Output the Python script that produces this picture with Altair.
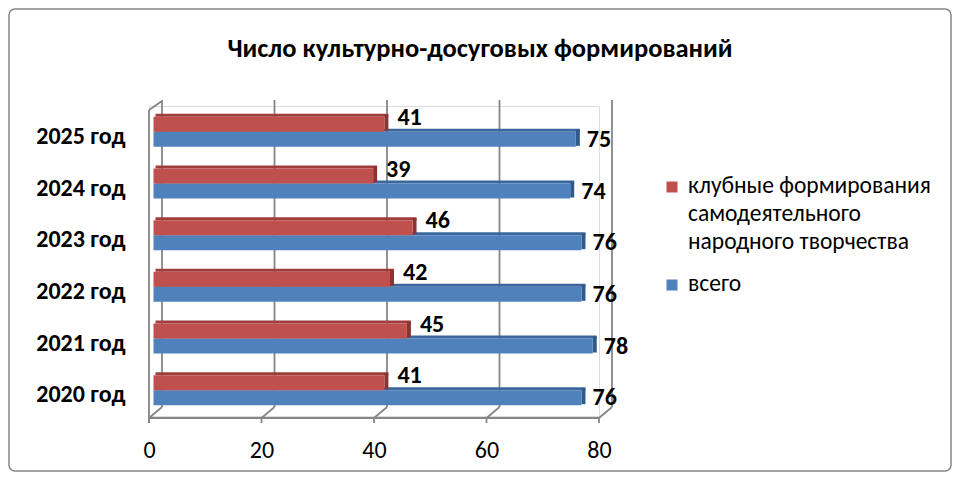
import altair as alt
import pandas as pd

# ---------------- data ----------------
years = ["2020 год", "2021 год", "2022 год", "2023 год", "2024 год", "2025 год"]
club = [41, 45, 42, 46, 39, 41]
total = [76, 78, 76, 76, 74, 75]
series_names = ["клубные формирования самодеятельного народного творчества", "всего"]
legend_lines = ["клубные формирования\nсамодеятельного\nнародного творчества", "всего"]
x_ticks = [0, 20, 40, 60, 80]
title_text = "Число культурно-досуговых формирований"

# ---------------- style ----------------
FONT = "Carlito, Lato, 'Noto Sans', sans-serif"
GRID = "#868686"
RED, RED_TOP, RED_SIDE = "#C0504D", "#9E3D3B", "#8A3331"
BLUE, BLUE_TOP, BLUE_SIDE = "#4F81BD", "#3B679C", "#2F5A8C"

W, H = 450, 310
PAD = {"left": 141, "top": 98, "right": 944 - 141 - W, "bottom": 464 - 98 - H}

rows = []
for y, c, t in zip(years, club, total):
    rows.append({"year": y, "series": "club", "value": c, "zero": 0})
    rows.append({"year": y, "series": "total", "value": t, "zero": 0})
df = pd.DataFrame(rows)
ticks_df = pd.DataFrame({"v": x_ticks})
ends_df = pd.DataFrame({"a": [x_ticks[0]], "b": [x_ticks[-1]]})
legend_df = pd.DataFrame({"key": ["a", "b"], "label": legend_lines, "name": series_names})
title_df = pd.DataFrame({"t": [title_text]})

# ---------------- frame layer (walls, grid, axis) ----------------
xs_frame = alt.Scale(domain=[x_ticks[0], x_ticks[-1]], nice=False, zero=False)
xa = alt.Axis(values=x_ticks, title=None, domain=False, ticks=False, tickSize=0, grid=False,
              labelFont=FONT, labelFontSize=24, labelColor="#000000", labelFlush=False,
              labelPadding=34, labelBaseline="middle")

def fx(field):
    return alt.X(field, type="quantitative", scale=xs_frame, axis=xa)

SW = 1.8
back_grid = alt.Chart(ticks_df).mark_rule(color=GRID, strokeWidth=SW, xOffset=13).encode(
    x=fx("v"), y=alt.value(-6), y2=alt.value(301))
diag = alt.Chart(ticks_df).mark_rule(color=GRID, strokeWidth=SW, x2Offset=13).encode(
    x=fx("v"), x2="v:Q", y=alt.value(312), y2=alt.value(301))
ticks = alt.Chart(ticks_df).mark_rule(color=GRID, strokeWidth=SW).encode(
    x=fx("v"), y=alt.value(312), y2=alt.value(317))
front_axis = alt.Chart(ends_df).mark_rule(color=GRID, strokeWidth=SW).encode(
    x=fx("a"), x2="b:Q", y=alt.value(312))
left_front = alt.Chart(ends_df).mark_rule(color=GRID, strokeWidth=SW).encode(
    x=fx("a"), y=alt.value(4), y2=alt.value(317))
left_top = alt.Chart(ends_df).mark_rule(color=GRID, strokeWidth=SW, x2Offset=13).encode(
    x=fx("a"), x2="a:Q", y=alt.value(4), y2=alt.value(-5))
border = alt.Chart(ends_df).mark_rect(fillOpacity=0, stroke="#858585", strokeWidth=1.5,
                                      cornerRadius=6).encode(
    x=alt.value(-140), x2=alt.value(802), y=alt.value(-97), y2=alt.value(365))

frame = alt.layer(border, back_grid, diag, ticks, front_axis, left_front, left_top)

# ---------------- bars layer ----------------
xs_bar = alt.Scale(domain=[x_ticks[0], x_ticks[-1]], range=[4.5, 455], nice=False, zero=False)

def bx(field):
    return alt.X(field, type="quantitative", scale=xs_bar, axis=None)

yenc = alt.Y("year:N", sort=years[::-1],
             scale=alt.Scale(paddingInner=0, paddingOuter=0),
             axis=alt.Axis(title=None, domain=False, ticks=False, grid=False,
                           labelFont=FONT, labelFontSize=24, labelFontWeight="bold",
                           labelColor="#000000", labelPadding=24, labelOffset=5))

def parts(series, front, top, side, yc, ldx, ldy):
    base = alt.Chart(df).transform_filter(alt.datum.series == series)
    topf = base.mark_bar(color=top, height=3, yOffset=yc - 9, xOffset=2, x2Offset=4).encode(
        x=bx("zero"), x2="value:Q", y=yenc)
    sidef = base.mark_bar(color=side, height=16, yOffset=yc - 1.5, x2Offset=4).encode(
        x=bx("value"), x2="value:Q", y=yenc)
    frontf = base.mark_bar(color=front, height=15, yOffset=yc).encode(
        x=bx("zero"), x2="value:Q", y=yenc)
    lab = base.mark_text(align="left", baseline="middle", dx=ldx, dy=ldy, font=FONT,
                         fontSize=24, fontWeight="bold", color="#000000").encode(
        x=bx("value"), y=yenc, text="value:Q")
    return [topf, sidef, frontf, lab]

bars = alt.layer(*parts("total", BLUE, BLUE_TOP, BLUE_SIDE, 7.5, 11, 8),
                 *parts("club", RED, RED_TOP, RED_SIDE, -7.5, 13, -14))

# ---------------- legend layer ----------------
ly = alt.Y("key:N", scale=alt.Scale(range=[81, 179], padding=0), axis=None)
lc = alt.Color("key:N", scale=alt.Scale(domain=["a", "b"], range=[RED, BLUE]), legend=None)
leg_sq = alt.Chart(legend_df).mark_square(size=121, opacity=1).encode(
    x=alt.value(523), y=ly, color=lc)
leg_tx = alt.Chart(legend_df).mark_text(align="left", baseline="top", dy=-13, lineBreak="\n",
                                        lineHeight=28, font=FONT, fontSize=23.5,
                                        color="#000000").encode(
    x=alt.value(539), y=ly, text="label:N")
legend = alt.layer(leg_sq, leg_tx)

# ---------------- title ----------------
title = alt.Chart(title_df).mark_text(align="center", baseline="middle", font=FONT,
                                      fontSize=26.5, fontWeight="bold", color="#000000").encode(
    x=alt.value(331), y=alt.value(-57), text="t:N")

chart = alt.layer(frame, bars, legend, title).resolve_scale(
    x="independent", y="independent", color="independent"
).properties(
    width=W, height=H, padding=PAD, autosize=alt.AutoSizeParams(type="none")
).configure_view(stroke=None).configure(background="white")

chart.save("out.html", embed_options={"renderer": "svg", "actions": False})
